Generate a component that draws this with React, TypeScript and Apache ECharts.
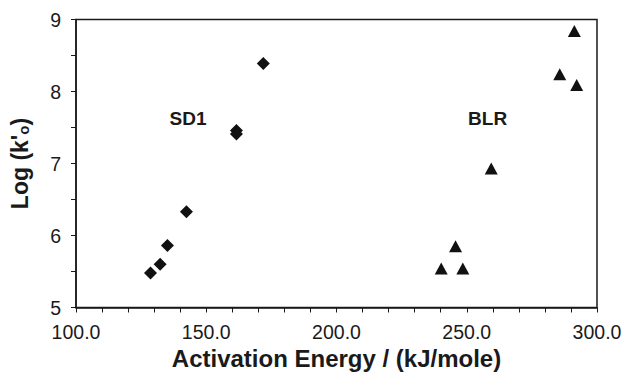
import React, { useEffect, useRef } from "react";
import * as echarts from "echarts";

const sd1Energy = [128.6, 132.3, 135.1, 142.4, 161.6, 161.6, 171.9];
const sd1Log = [5.48, 5.6, 5.86, 6.33, 7.46, 7.41, 8.39];
const blrEnergy = [291.3, 285.7, 292.2, 259.4, 245.7, 240.2, 248.5];
const blrLog = [8.84, 8.24, 8.09, 6.93, 5.85, 5.54, 5.54];
const labelNames = ["SD1", "BLR"];
const labelEnergy = [143, 258];
const labelLog = [7.63, 7.63];

const xTitle = "Activation Energy / (kJ/mole)";

export default function App() {
  const ref = useRef<HTMLDivElement>(null);
  useEffect(() => {
    if (!ref.current) return;
    const chart = echarts.init(ref.current, null, { renderer: "svg" });
    const font = "'Liberation Sans', Arial, sans-serif";
    const ink = "#1a1a1a";
    chart.setOption({
      animation: false,
      textStyle: { fontFamily: font },
      grid: {
        left: 75,
        right: 30,
        top: 19.5,
        bottom: 69.5,
        show: true,
        borderColor: ink,
        borderWidth: 1.5,
        backgroundColor: "transparent",
      },
      xAxis: {
        type: "value",
        min: 100,
        max: 300,
        interval: 10,
        name: xTitle,
        nameLocation: "middle",
        nameGap: 39,
        nameTextStyle: { fontSize: 24, fontWeight: "bold", color: ink, fontFamily: font },
        axisLine: { show: true, lineStyle: { color: ink, width: 1.5 } },
        axisTick: { show: true, inside: false, length: 5, lineStyle: { color: ink, width: 1 } },
        axisLabel: {
          margin: 14,
          fontSize: 19.5,
          color: ink,
          fontFamily: font,
          formatter: (v: number) => (Math.round(v) % 50 === 0 ? v.toFixed(1) : ""),
        },
        splitLine: { show: false },
      },
      yAxis: {
        type: "value",
        min: 5,
        max: 9,
        interval: 0.5,
        name: "{a|Log (k'}{b|o}{a|)}",
        nameLocation: "middle",
        nameGap: 45,
        nameRotate: 90,
        nameTextStyle: {
          color: ink,
          fontFamily: font,
          rich: {
            a: { fontSize: 23, fontWeight: "bold", color: ink, fontFamily: font },
            b: { fontSize: 15, fontWeight: "bold", color: ink, fontFamily: font, verticalAlign: "bottom", padding: [8, 0, 0, 0] },
          },
        },
        axisLine: { show: true, lineStyle: { color: ink, width: 1.5 } },
        axisTick: { show: true, inside: false, length: 5, lineStyle: { color: ink, width: 1 } },
        axisLabel: {
          margin: 15,
          fontSize: 19.5,
          color: ink,
          fontFamily: font,
          formatter: (v: number) => (Math.abs(v - Math.round(v)) < 1e-6 ? String(Math.round(v)) : ""),
        },
        splitLine: { show: false },
      },
      series: [
        {
          name: "SD1",
          type: "scatter",
          symbol: "diamond",
          symbolSize: [13, 13],
          itemStyle: { color: "#111", opacity: 1 },
          data: sd1Energy.map((e, i) => [e, sd1Log[i]]),
        },
        {
          name: "BLR",
          type: "scatter",
          symbol: "triangle",
          symbolSize: [13, 12],
          itemStyle: { color: "#111", opacity: 1 },
          data: blrEnergy.map((e, i) => [e, blrLog[i]]),
        },
        {
          name: "labels",
          type: "scatter",
          symbolSize: 0,
          silent: true,
          itemStyle: { opacity: 1 },
          label: {
            show: true,
            position: "inside",
            formatter: (p: any) => labelNames[p.dataIndex],
            fontSize: 19,
            fontWeight: "bold",
            color: ink,
            opacity: 1,
            fontFamily: font,
          },
          data: labelEnergy.map((e, i) => [e, labelLog[i]]),
        },
      ],
    });
    return () => chart.dispose();
  }, []);
  return <div ref={ref} style={{ width: 627, height: 377, position: "absolute", left: 0, top: 0 }} />;
}
